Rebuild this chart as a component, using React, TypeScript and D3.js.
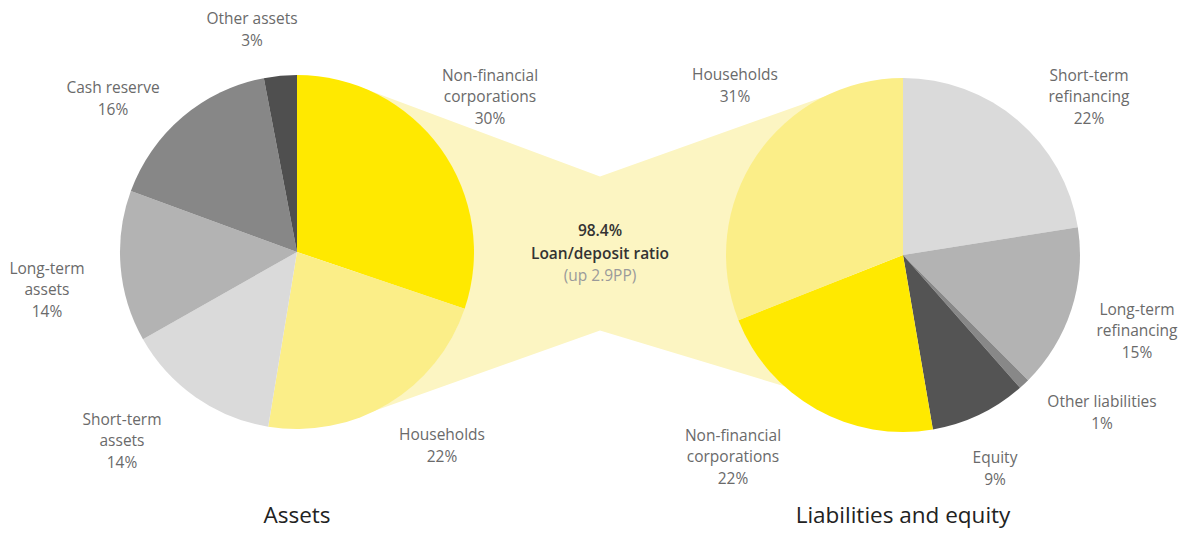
import React, { useEffect, useRef } from 'react';
import * as d3 from 'd3';

// Assets (clockwise from 12 o'clock)
const assetLines = [
  ['Non-financial', 'corporations'],
  ['Households'],
  ['Short-term', 'assets'],
  ['Long-term', 'assets'],
  ['Cash reserve'],
  ['Other assets'],
];
const assetShares = [30.2, 22.4, 14.2, 13.8, 16.4, 3.0];
const assetPct = ['30%', '22%', '14%', '14%', '16%', '3%'];

// Liabilities and equity (clockwise from 12 o'clock)
const liabLines = [
  ['Short-term', 'refinancing'],
  ['Long-term', 'refinancing'],
  ['Other liabilities'],
  ['Equity'],
  ['Non-financial', 'corporations'],
  ['Households'],
];
const liabShares = [22.5, 15.0, 1.0, 8.8, 21.7, 31.0];
const liabPct = ['22%', '15%', '1%', '9%', '22%', '31%'];

const ratioValue = '98.4%';
const ratioLabel = 'Loan/deposit ratio';
const ratioChange = '(up 2.9PP)';

const YELLOW = '#FFE900';
const LIGHT_YELLOW = '#FBEE88';
const assetColors = [YELLOW, LIGHT_YELLOW, '#DADADA', '#B3B3B3', '#878787', '#4F4F4F'];
const liabColors = ['#DADADA', '#B3B3B3', '#888888', '#545454', YELLOW, LIGHT_YELLOW];

export default function App() {
  const svgRef = useRef<SVGSVGElement>(null);
  const width = 1178;
  const height = 533;

  useEffect(() => {
    if (!svgRef.current) return;
    d3.select(svgRef.current).selectAll('*').remove();

    const svg = d3.select(svgRef.current)
      .attr('width', width)
      .attr('height', height);

    const font = "'Open Sans', 'DejaVu Sans', sans-serif";
    const radius = 177;
    const left = { x: 297, y: 252 };
    const right = { x: 903, y: 255 };

    // label anchors relative to pie centre
    const assetLabelPos = [[193, -155], [145, 194], [-175, 189], [-250, 38], [-184, -153], [-45, -222]];
    const liabLabelPos = [[186, -158], [234, 76], [199, 158], [92, 214], [-170, 202], [-168, -169]];

    // connecting band between the two yellow parts
    const midX = (left.x + right.x) / 2;
    const midY = (left.y + right.y) / 2;
    const pinch = 77;
    const band = [
      [left.x + 63, left.y - 165],
      [midX, midY - pinch],
      [right.x - 63, right.y - 164],
      [right.x - 53, right.y + 151],
      [midX, midY + pinch],
      [left.x + 63, left.y + 164],
    ];
    svg.append('path')
      .attr('d', d3.line()(band as [number, number][]) + 'Z')
      .attr('fill', '#FCF5C2');

    const pie = d3.pie<number>().sort(null).value(d => d);
    const arc = d3.arc<d3.PieArcDatum<number>>().innerRadius(0).outerRadius(radius);

    const drawPie = (
      c: { x: number; y: number },
      values: number[],
      colors: string[],
      lines: string[][],
      pct: string[],
      pos: number[][],
      title: string,
    ) => {
      const g = svg.append('g').attr('transform', `translate(${c.x},${c.y})`);
      g.selectAll('path')
        .data(pie(values))
        .enter()
        .append('path')
        .attr('d', arc)
        .attr('fill', (_, i) => colors[i]);

      lines.forEach((ls, i) => {
        const all = [...ls, pct[i]];
        const lh = 21.5;
        const y0 = pos[i][1] - ((all.length - 1) * lh) / 2;
        const t = g.append('text')
          .attr('text-anchor', 'middle')
          .style('font-family', font)
          .style('font-size', '15.5px')
          .style('fill', '#6a6a6a');
        all.forEach((s, j) => {
          t.append('tspan')
            .attr('x', pos[i][0])
            .attr('y', y0 + j * lh + 5)
            .text(s);
        });
      });

      g.append('text')
        .attr('x', 0)
        .attr('y', 523 - c.y)
        .attr('text-anchor', 'middle')
        .style('font-family', font)
        .style('font-size', '22.5px')
        .style('fill', '#222')
        .text(title);
    };

    drawPie(left, assetShares, assetColors, assetLines, assetPct, assetLabelPos, 'Assets');
    drawPie(right, liabShares, liabColors, liabLines, liabPct, liabLabelPos, 'Liabilities and equity');

    // centre annotation
    const center = svg.append('text')
      .attr('text-anchor', 'middle')
      .style('font-family', font)
      .style('font-size', '15.5px');
    center.append('tspan').attr('x', midX).attr('y', midY - 18)
      .style('font-weight', 600).style('fill', '#333').text(ratioValue);
    center.append('tspan').attr('x', midX).attr('y', midY + 5)
      .style('font-weight', 600).style('fill', '#333').text(ratioLabel);
    center.append('tspan').attr('x', midX).attr('y', midY + 27)
      .style('fill', '#9a9a9a').text(ratioChange);
  }, []);

  return (
    <div style={{ position: 'absolute', left: 0, top: 0, background: '#fff' }}>
      <svg ref={svgRef} style={{ display: 'block' }}></svg>
    </div>
  );
}
